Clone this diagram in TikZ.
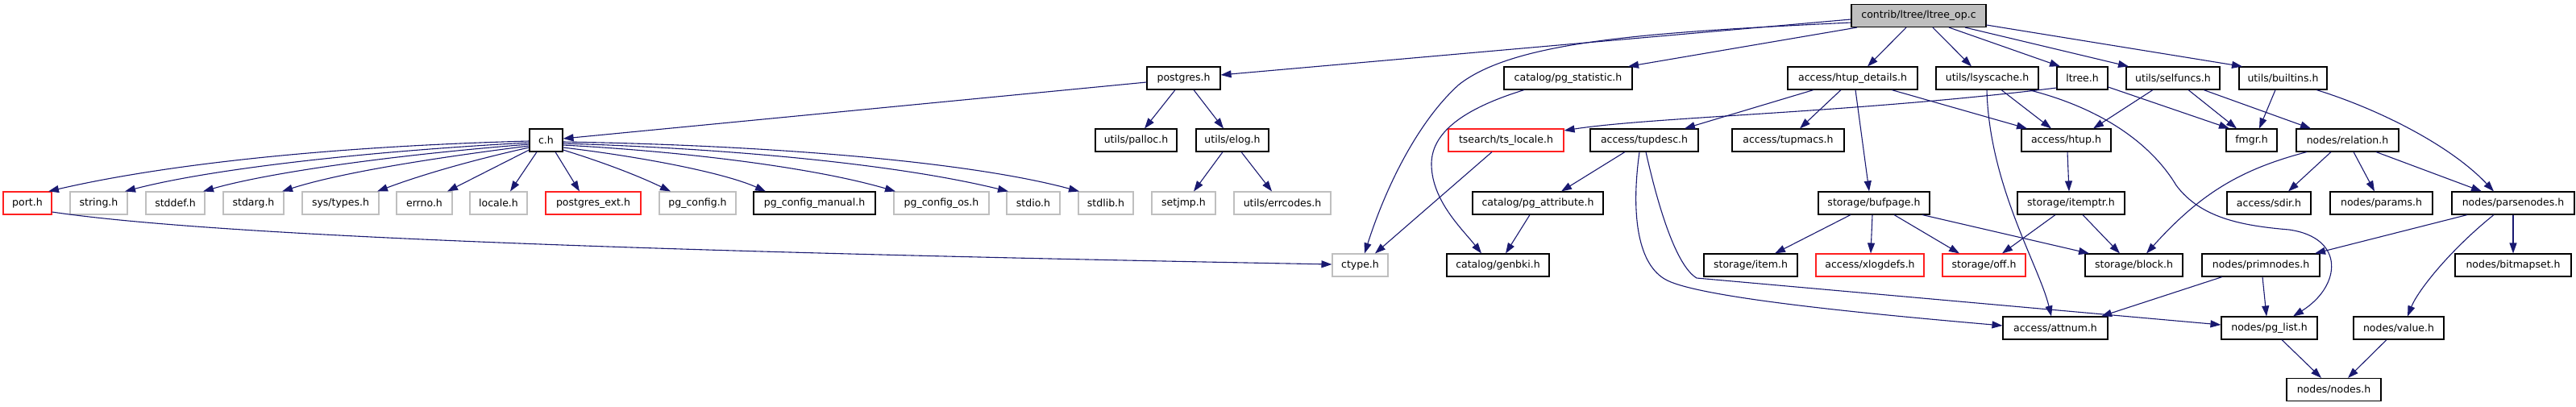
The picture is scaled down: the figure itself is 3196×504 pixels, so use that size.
\documentclass[tikz,border=0pt]{standalone}
\usepackage{fontspec}
\setmainfont{DejaVu Sans}
\usetikzlibrary{arrows.meta}
\definecolor{edgeblue}{HTML}{191970}
\definecolor{boxgray}{HTML}{BFBFBF}
\definecolor{boxred}{HTML}{FF2020}
\tikzset{
  nd/.style={draw=black, line width=1.1pt, minimum height=28pt, inner sep=0pt, anchor=center,
             font=\fontsize{12.5}{15}\selectfont},
  gnd/.style={nd, draw=boxgray},
  rnd/.style={nd, draw=boxred},
  rootnd/.style={nd, fill=boxgray},
  e/.style={draw=edgeblue, line width=1.1pt, -{Triangle[length=13pt,width=9pt]}}
}
\begin{document}
\begin{tikzpicture}[x=1pt,y=-1pt]
\useasboundingbox (0,0) rectangle (3196,504);
% row 1
\node[rootnd, minimum width=167pt] (root) at (2380.5,19.5) {contrib/ltree/ltree\_op.c};
% row 2
\node[nd, minimum width=91pt] (postgres) at (1468.5,97) {postgres.h};
\node[nd, minimum width=159pt] (pgstat) at (1945.5,97) {catalog/pg\_statistic.h};
\node[nd, minimum width=161pt] (htupd) at (2298.5,97) {access/htup\_details.h};
\node[nd, minimum width=127pt] (lsys) at (2465.5,97) {utils/lsyscache.h};
\node[nd, minimum width=63pt] (ltree) at (2583.5,97) {ltree.h};
\node[nd, minimum width=116pt] (selfuncs) at (2696,97) {utils/selfuncs.h};
\node[nd, minimum width=109pt] (builtins) at (2832.5,97) {utils/builtins.h};
% row 3
\node[nd, minimum width=41pt] (ch) at (677.5,174) {c.h};
\node[nd, minimum width=101pt] (palloc) at (1409.5,174) {utils/palloc.h};
\node[nd, minimum width=90pt] (elog) at (1529,174) {utils/elog.h};
\node[rnd, minimum width=143pt] (tsloc) at (1868.5,174) {tsearch/ts\_locale.h};
\node[nd, minimum width=134pt] (tupdesc) at (2040,174) {access/tupdesc.h};
\node[nd, minimum width=139pt] (tupmacs) at (2218.5,174) {access/tupmacs.h};
\node[nd, minimum width=111pt] (htup) at (2563.5,174) {access/htup.h};
\node[nd, minimum width=63pt] (fmgr) at (2793.5,174) {fmgr.h};
\node[nd, minimum width=127pt] (relation) at (2912.5,174) {nodes/relation.h};
% row 4
\node[rnd, minimum width=60pt] (port) at (34,252) {port.h};
\node[gnd, minimum width=71pt] (string) at (122.5,252) {string.h};
\node[gnd, minimum width=73pt] (stddef) at (217.5,252) {stddef.h};
\node[gnd, minimum width=75pt] (stdarg) at (314.5,252) {stdarg.h};
\node[gnd, minimum width=95pt] (systypes) at (422.5,252) {sys/types.h};
\node[gnd, minimum width=69pt] (errno) at (526.5,252) {errno.h};
\node[gnd, minimum width=71pt] (locale) at (618.5,252) {locale.h};
\node[rnd, minimum width=118pt] (pgext) at (736,252) {postgres\_ext.h};
\node[gnd, minimum width=95pt] (pgconfig) at (865.5,252) {pg\_config.h};
\node[nd, minimum width=151pt] (pgcm) at (1010.5,252) {pg\_config\_manual.h};
\node[gnd, minimum width=118pt] (pgcos) at (1168,252) {pg\_config\_os.h};
\node[gnd, minimum width=66pt] (stdio) at (1282,252) {stdio.h};
\node[gnd, minimum width=68pt] (stdlib) at (1372,252) {stdlib.h};
\node[gnd, minimum width=79pt] (setjmp) at (1468.5,252) {setjmp.h};
\node[gnd, minimum width=120pt] (errcodes) at (1591,252) {utils/errcodes.h};
\node[nd, minimum width=162pt] (pgattr) at (1908,252) {catalog/pg\_attribute.h};
\node[nd, minimum width=138pt] (bufpage) at (2325,252) {storage/bufpage.h};
\node[nd, minimum width=133pt] (itemptr) at (2569.5,252) {storage/itemptr.h};
\node[nd, minimum width=104pt] (sdir) at (2815,252) {access/sdir.h};
\node[nd, minimum width=127pt] (params) at (2954.5,252) {nodes/params.h};
\node[nd, minimum width=152pt] (parsenodes) at (3118,252) {nodes/parsenodes.h};
% row 5
\node[gnd, minimum width=69pt] (ctype) at (1687.5,329) {ctype.h};
\node[nd, minimum width=127pt] (genbki) at (1858.5,329) {catalog/genbki.h};
\node[nd, minimum width=116pt] (item) at (2172,329) {storage/item.h};
\node[rnd, minimum width=134pt] (xlogdefs) at (2320,329) {access/xlogdefs.h};
\node[rnd, minimum width=103pt] (off) at (2461.5,329) {storage/off.h};
\node[nd, minimum width=121pt] (block) at (2647.5,329) {storage/block.h};
\node[nd, minimum width=146pt] (primnodes) at (2805,329) {nodes/primnodes.h};
\node[nd, minimum width=144pt] (bitmapset) at (3118,329) {nodes/bitmapset.h};
% row 6
\node[nd, minimum width=130pt] (attnum) at (2550,407) {access/attnum.h};
\node[nd, minimum width=119pt] (pglist) at (2815.5,407) {nodes/pg\_list.h};
\node[nd, minimum width=112pt] (value) at (2976,407) {nodes/value.h};
% row 7
\node[nd, minimum width=117pt] (nodes) at (2895.5,483.5) {nodes/nodes.h};

% edges from root
\draw[e] (root.west |- 0,24) -- (postgres.east |- 0,93);
\draw[e] (root.west |- 0,28) .. controls (2050,40) and (1880,50) .. (1810,105)
         .. controls (1760,150) and (1720,230) .. (ctype.north -| 1693,0);
\draw[e] (root.south -| 2304,0) -- (pgstat.north -| 2020,0);
\draw[e] (root.south -| 2365,0) -- (htupd.north -| 2317,0);
\draw[e] (root.south -| 2398,0) -- (lsys.north -| 2446,0);
\draw[e] (root.south -| 2418,0) -- (ltree.north -| 2556,0);
\draw[e] (root.south -| 2438,0) -- (selfuncs.north -| 2641,0);
\draw[e] (root.east |- 0,31) -- (builtins.north -| 2782,0);
% postgres.h
\draw[e] (postgres.west |- 0,102) -- (ch.east |- 0,172);
\draw[e] (postgres.south -| 1458,0) -- (palloc.north -| 1420,0);
\draw[e] (postgres.south -| 1481,0) -- (elog.north -| 1518,0);
\draw[e] (elog.south -| 1517,0) -- (setjmp.north -| 1481,0);
\draw[e] (elog.south -| 1540,0) -- (errcodes.north -| 1578,0);
% c.h fan
\draw[e] (ch.west |- 0,175) .. controls (400,182) and (200,205) .. (port.north -| 60,0);
\draw[e] (ch.west |- 0,177) .. controls (450,188) and (260,210) .. (string.north -| 155,0);
\draw[e] (ch.west |- 0,179) .. controls (480,193) and (330,215) .. (stddef.north -| 252,0);
\draw[e] (ch.west |- 0,181) .. controls (530,197) and (420,215) .. (stdarg.north -| 350,0);
\draw[e] (ch.west |- 0,183) .. controls (580,200) and (520,218) .. (systypes.north -| 468,0);
\draw[e] (ch.west |- 0,186) -- (errno.north -| 555,0);
\draw[e] (ch.south -| 666,0) -- (locale.north -| 633,0);
\draw[e] (ch.south -| 689,0) -- (pgext.north -| 719,0);
\draw[e] (ch.east |- 0,186) .. controls (760,205) and (800,222) .. (pgconfig.north -| 832,0);
\draw[e] (ch.east |- 0,183) .. controls (800,195) and (900,215) .. (pgcm.north -| 950,0);
\draw[e] (ch.east |- 0,180) .. controls (850,188) and (1010,208) .. (pgcos.north -| 1111,0);
\draw[e] (ch.east |- 0,178) .. controls (900,184) and (1110,203) .. (stdio.north -| 1251,0);
\draw[e] (ch.east |- 0,176) .. controls (950,180) and (1200,200) .. (stdlib.north -| 1339,0);
% port.h
\draw[e] (port.east |- 0,263) .. controls (300,298) and (1000,316) .. (ctype.west |- 0,328);
% catalog
\draw[e] (pgstat.south -| 1891,0) .. controls (1815,135) and (1775,165) .. (1776,205)
         .. controls (1777,250) and (1815,285) .. (genbki.north -| 1838,0);
\draw[e] (tsloc.south -| 1851,0) -- (ctype.north -| 1706,0);
\draw[e] (ltree.west |- 0,109) .. controls (2300,140) and (2050,145) .. (tsloc.east |- 0,162);
% htup_details
\draw[e] (htupd.south -| 2250,0) -- (tupdesc.north -| 2090,0);
\draw[e] (htupd.south -| 2284,0) -- (tupmacs.north -| 2233,0);
\draw[e] (htupd.south -| 2302,0) -- (bufpage.north -| 2319,0);
\draw[e] (htupd.south -| 2347,0) -- (htup.north -| 2515,0);
% tupdesc
\draw[e] (tupdesc.south -| 2016,0) -- (pgattr.north -| 1937,0);
\draw[e] (tupdesc.south -| 2034,0) .. controls (2024,260) and (2030,325) .. (2065,346)
         .. controls (2100,368) and (2300,388) .. (attnum.west |- 0,404);
\draw[e] (tupdesc.south -| 2042,0) .. controls (2058,260) and (2080,330) .. (2105,345)
         -- (pglist.west |- 0,403);
\draw[e] (pgattr.south -| 1898,0) -- (genbki.north -| 1868,0);
% bufpage
\draw[e] (bufpage.south -| 2296,0) -- (item.north -| 2202,0);
\draw[e] (bufpage.south -| 2323,0) -- (xlogdefs.north -| 2321,0);
\draw[e] (bufpage.south -| 2350,0) -- (off.north -| 2431,0);
\draw[e] (bufpage.south -| 2385,0) -- (block.north -| 2592,0);
% htup / itemptr
\draw[e] (htup.south -| 2565,0) -- (itemptr.north -| 2567,0);
\draw[e] (itemptr.south -| 2550,0) -- (off.north -| 2484,0);
\draw[e] (itemptr.south -| 2584,0) -- (block.north -| 2630,0);
% lsyscache
\draw[e] (lsys.south -| 2483,0) -- (htup.north -| 2545,0);
\draw[e] (lsys.south -| 2465,0) .. controls (2468,230) and (2530,330) .. (attnum.north -| 2545,0);
\draw[e] (lsys.south -| 2517,0) .. controls (2610,135) and (2670,180) .. (2700,230)
         .. controls (2730,270) and (2780,280) .. (2840,285)
         .. controls (2910,295) and (2905,355) .. (pglist.north -| 2845,0);
% ltree.h
\draw[e] (ltree.east |- 0,108) -- (fmgr.north -| 2766,0);
% selfuncs
\draw[e] (selfuncs.south -| 2671,0) -- (htup.north -| 2597,0);
\draw[e] (selfuncs.south -| 2715,0) -- (fmgr.north -| 2775,0);
\draw[e] (selfuncs.south -| 2734,0) -- (relation.north -| 2867,0);
% builtins
\draw[e] (builtins.south -| 2823,0) -- (fmgr.north -| 2803,0);
\draw[e] (builtins.south -| 2874,0) .. controls (2950,135) and (3040,180) .. (parsenodes.north -| 3094,0);
% relation
\draw[e] (relation.south -| 2862,0) .. controls (2780,210) and (2730,240) .. (block.north -| 2663,0);
\draw[e] (relation.south -| 2892,0) -- (sdir.north -| 2839,0);
\draw[e] (relation.south -| 2920,0) -- (params.north -| 2946,0);
\draw[e] (relation.south -| 2948,0) -- (parsenodes.north -| 3079,0);
% parsenodes
\draw[e] (parsenodes.south -| 3061,0) -- (primnodes.north -| 2872,0);
\draw[e] (parsenodes.south -| 3094,0) .. controls (3040,310) and (3000,360) .. (value.north -| 2987,0);
\draw[e] (parsenodes.south -| 3118,0) -- (bitmapset.north -| 3118,0);
% primnodes
\draw[e] (primnodes.south -| 2757,0) -- (attnum.north -| 2607,0);
\draw[e] (primnodes.south -| 2807,0) -- (pglist.north -| 2812,0);
% nodes
\draw[e] (pglist.south -| 2831,0) -- (nodes.north -| 2880,0);
\draw[e] (value.south -| 2961,0) -- (nodes.north -| 2913,0);
\end{tikzpicture}
\end{document}
